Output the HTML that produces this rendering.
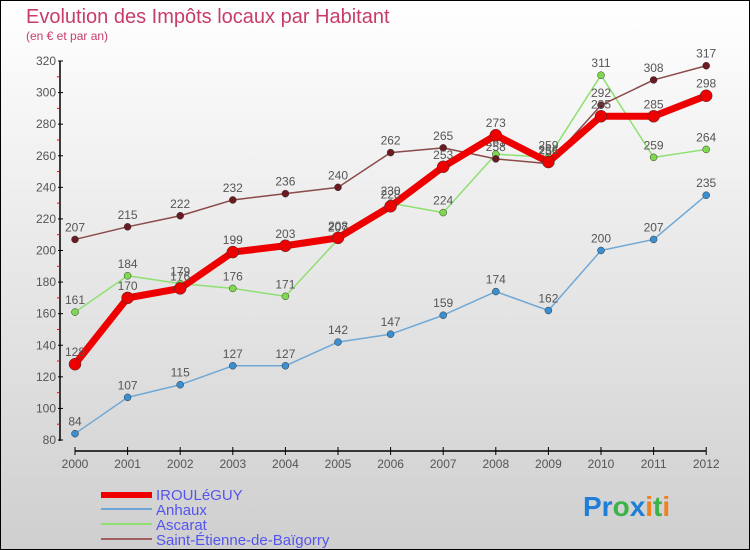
<!DOCTYPE html>
<html><head><meta charset="utf-8"><style>
body{margin:0}
#c{width:748px;height:548px;border:1px solid #000;background:linear-gradient(#fff,#cfcfcf);position:relative;overflow:hidden;font-family:"Liberation Sans",sans-serif}
</style></head><body>
<div id="c">
<svg id="s" width="748" height="548"></svg>
</div>
<script>
const years=["2000","2001","2002","2003","2004","2005","2006","2007","2008","2009","2010","2011","2012"];
const iroul=[128,170,176,199,203,208,228,253,273,256,285,285,298];
const anhaux=[84,107,115,127,127,142,147,159,174,162,200,207,235];
const ascarat=[161,184,179,176,171,207,230,224,261,259,311,259,264];
const stetienne=[207,215,222,232,236,240,262,265,258,255,292,308,317];
const yTicks=[80,100,120,140,160,180,200,220,240,260,280,300,320];
const NS="http://www.w3.org/2000/svg";
const s=document.getElementById('s');
const X=i=>74+i*52.6;
const Y=v=>439-(v-80)*(379/240);
function mk(t,a,p){const e=document.createElementNS(NS,t);for(const k in a)e.setAttribute(k,a[k]);(p||s).appendChild(e);return e;}
let t=mk('text',{x:25,y:22,'font-size':20,fill:'#c83c68'});t.textContent='Evolution des Impôts locaux par Habitant';


t=mk('text',{x:25,y:39,'font-size':12,fill:'#c83c68'});t.textContent='(en € et par an)';


let ax=mk('line',{x1:59,y1:Y(320),x2:59,y2:Y(80)+1,stroke:'#000','stroke-width':1.5});


ax=mk('line',{x1:X(0),y1:450,x2:X(12),y2:450,stroke:'#000','stroke-width':1.5});


yTicks.forEach((v,i)=>{
 mk('line',{x1:57,y1:Y(v),x2:62,y2:Y(v),stroke:'#000'});
 if(i<yTicks.length-1)mk('line',{x1:56,y1:Y(v+10),x2:59,y2:Y(v+10),stroke:'#f00'});
 const e=mk('text',{x:55,y:Y(v)+4,'font-size':12,fill:'#555','text-anchor':'end'});e.textContent=v;
 
 
});
years.forEach((y,i)=>{
 mk('line',{x1:X(i),y1:446,x2:X(i),y2:454,stroke:'#000'});
 const e=mk('text',{x:X(i),y:467,'font-size':12,fill:'#555','text-anchor':'middle'});e.textContent=y;
 
 
});
function series(d,col,w,r,dot,name){
 const g=mk('g',{});
 
 
 mk('polyline',{points:d.map((v,i)=>X(i)+','+Y(v)).join(' '),fill:'none',stroke:col,'stroke-width':w,'stroke-linejoin':'round'},g);
 d.forEach((v,i)=>{
  const c=mk('circle',{cx:X(i),cy:Y(v),r:r,fill:dot,stroke:'#333','stroke-width':0.5},g);
  
  
  const e=mk('text',{x:X(i),y:Y(v)-8,'font-size':12,fill:'#555','text-anchor':'middle'},g);e.textContent=v;
  
  
 });
}
series(anhaux,'#6fa8d6',1.5,3.5,'#3a8fd0','series-anhaux');
series(ascarat,'#8ee070',1.5,3.5,'#7ed94f','series-ascarat');
series(stetienne,'#8a4a4a',1.5,3.5,'#6b1a22','series-saint-etienne');
series(iroul,'#ee0000',7,6,'#ee0000','series-irouleguy');
const leg=[['IROULéGUY','#ee0000',6],['Anhaux','#6fa8d6',2],['Ascarat','#8ee070',2],['Saint-Étienne-de-Baïgorry','#a06060',2]];
leg.forEach((l,i)=>{
 const y=493+i*15;
 const g=mk('g',{});
 
 
 mk('line',{x1:100,y1:y+(i==0?1:0),x2:151,y2:y+(i==0?1:0),stroke:l[1],'stroke-width':l[2]},g);
 const e=mk('text',{x:155,y:y+6,'font-size':15,fill:'#5555ee'},g);e.textContent=l[0];
});
const p=mk('text',{x:582,y:515,'font-size':28,'font-weight':'bold'});


[['Pr','#1f7fd8'],['o','#3cb34a'],['x','#1f7fd8'],['i','#f08020'],['t','#3cb34a'],['i','#f08020']].forEach(a=>{const ts=mk('tspan',{fill:a[1]},p);ts.textContent=a[0];});
</script>
</body></html>
